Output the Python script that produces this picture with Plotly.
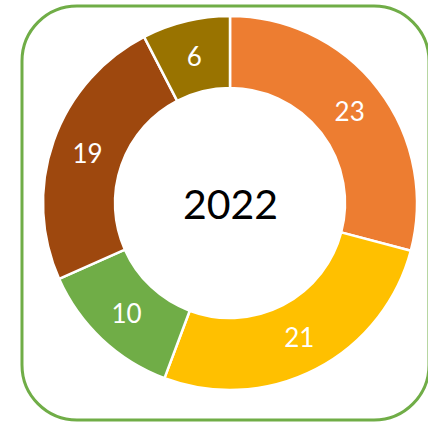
import plotly.graph_objects as go

labels = ["A", "B", "C", "D", "E"]
values = [23, 21, 10, 19, 6]
colors = ["#ED7D31", "#FFC000", "#70AD47", "#9E480E", "#997300"]
center_label = "2022"

W, H = 428, 425
L, R, T, B = 43, 11, 16, 35
pw, ph = W - L - R, H - T - B

def px_x(x):
    return (x - L) / pw

def px_y(y):
    return 1 - (y - T) / ph

def P(x, y):
    return f"{px_x(x)},{px_y(y)}"

fig = go.Figure(go.Pie(
    labels=labels, values=values, hole=0.615, sort=False,
    direction="clockwise", rotation=0,
    marker=dict(colors=colors, line=dict(color="white", width=2.5)),
    textinfo="value", textposition="inside", insidetextorientation="horizontal",
    textfont=dict(color="white", size=26, family="Lato, Open Sans, sans-serif"),
    showlegend=False, hoverinfo="label+value",
))

# rounded border (circular corners via cubic beziers)
x0, x1, y0, y1, r = 22, 429, 6, 420, 55
k = r * 0.4477
pts = (
    f"M {P(x0+r, y0)} L {P(x1-r, y0)} "
    f"C {P(x1-k, y0)} {P(x1, y0+k)} {P(x1, y0+r)} "
    f"L {P(x1, y1-r)} C {P(x1, y1-k)} {P(x1-k, y1)} {P(x1-r, y1)} "
    f"L {P(x0+r, y1)} C {P(x0+k, y1)} {P(x0, y1-k)} {P(x0, y1-r)} "
    f"L {P(x0, y0+r)} C {P(x0, y0+k)} {P(x0+k, y0)} {P(x0+r, y0)} Z"
)
fig.update_layout(
    width=W, height=H,
    margin=dict(l=L, r=R, t=T, b=B),
    paper_bgcolor="white", plot_bgcolor="white",
    shapes=[dict(type="path", path=pts, xref="paper", yref="paper",
                 line=dict(color="#70AD47", width=3), layer="below")],
    annotations=[dict(text=center_label, x=0.5, y=0.5, xref="paper", yref="paper",
                      showarrow=False,
                      font=dict(size=41, color="black", family="Lato, Open Sans, sans-serif"))],
)
fig.write_html("out.html", config={"displayModeBar": False},
               post_script="document.body.style.margin='0';document.body.style.overflow='hidden';")
